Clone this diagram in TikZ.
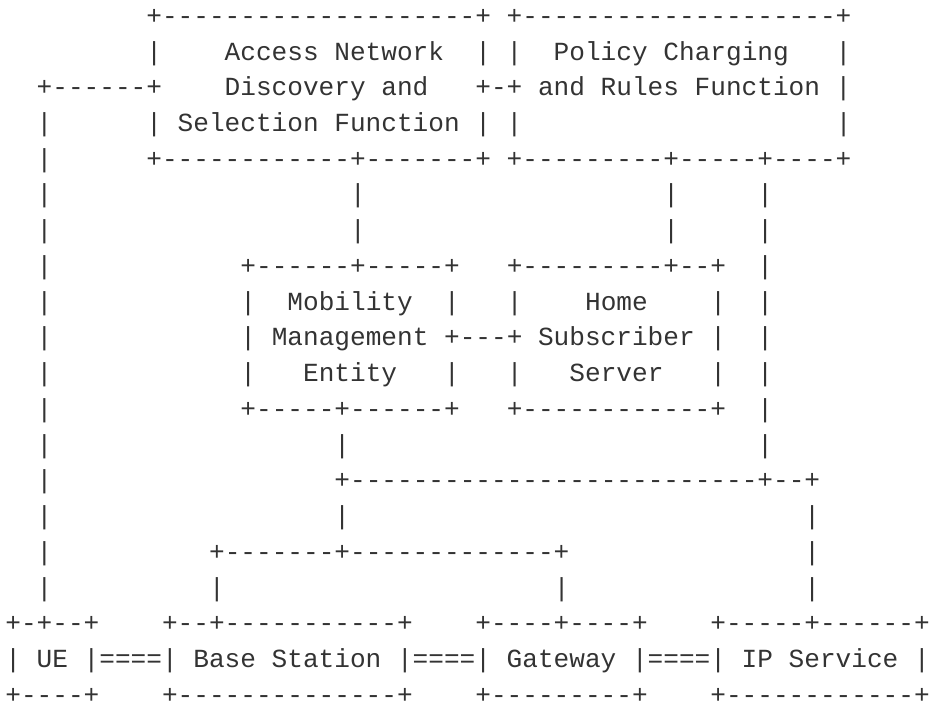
\documentclass[tikz,border=0pt]{standalone}
\usepackage{fontspec}
\setmonofont{Liberation Mono}
\definecolor{asciiink}{HTML}{333333}
\tikzset{
	asciitext/.style={
		inner sep  = 0pt,
		anchor     = base west,
		text depth = 0pt,
		text       = asciiink,
		font       = \ttfamily\fontsize{26.11pt}{36pt}\selectfont
	}
}
% n empty character cells
\newcommand{\blank}[1]{\hskip#1\fontcharwd\font`\x\relax}
\newcommand{\asciirow}[2]{%
	% row number, row text
	\pgfmathsetmacro{\rowy}{678.7-(#1-1)*35.74}
	\node[asciitext] (row#1) at (5.2,\rowy) {#2};
}

\begin{document}
\begin{tikzpicture}[x=1pt,y=1pt]
	\useasboundingbox (0,0) rectangle (929,703);
	% ANDSF and PCRF
	\asciirow{1}{\blank{9}+--------------------+\blank{1}+--------------------+}
	\asciirow{2}{\blank{9}|\blank{4}Access Network\blank{2}|\blank{1}|\blank{2}Policy Charging\blank{3}|}
	\asciirow{3}{\blank{2}+------+\blank{4}Discovery and\blank{3}+-+\blank{1}and Rules Function\blank{1}|}
	\asciirow{4}{\blank{2}|\blank{6}|\blank{1}Selection Function\blank{1}|\blank{1}|\blank{20}|}
	\asciirow{5}{\blank{2}|\blank{6}+------------+-------+\blank{1}+---------+-----+----+}
	\asciirow{6}{\blank{2}|\blank{19}|\blank{19}|\blank{5}|}
	\asciirow{7}{\blank{2}|\blank{19}|\blank{19}|\blank{5}|}
	% MME and HSS
	\asciirow{8}{\blank{2}|\blank{12}+------+-----+\blank{3}+---------+--+\blank{2}|}
	\asciirow{9}{\blank{2}|\blank{12}|\blank{2}Mobility\blank{2}|\blank{3}|\blank{4}Home\blank{4}|\blank{2}|}
	\asciirow{10}{\blank{2}|\blank{12}|\blank{1}Management\blank{1}+---+\blank{1}Subscriber\blank{1}|\blank{2}|}
	\asciirow{11}{\blank{2}|\blank{12}|\blank{3}Entity\blank{3}|\blank{3}|\blank{3}Server\blank{3}|\blank{2}|}
	\asciirow{12}{\blank{2}|\blank{12}+-----+------+\blank{3}+------------+\blank{2}|}
	\asciirow{13}{\blank{2}|\blank{18}|\blank{26}|}
	\asciirow{14}{\blank{2}|\blank{18}+--------------------------+--+}
	\asciirow{15}{\blank{2}|\blank{18}|\blank{29}|}
	\asciirow{16}{\blank{2}|\blank{10}+-------+-------------+\blank{15}|}
	\asciirow{17}{\blank{2}|\blank{10}|\blank{21}|\blank{15}|}
	% data path
	\asciirow{18}{+-+--+\blank{4}+--+-----------+\blank{4}+----+----+\blank{4}+-----+------+}
	\asciirow{19}{|\blank{1}UE\blank{1}|====|\blank{1}Base Station\blank{1}|====|\blank{1}Gateway\blank{1}|====|\blank{1}IP Service\blank{1}|}
	\asciirow{20}{+----+\blank{4}+--------------+\blank{4}+---------+\blank{4}+------------+}
\end{tikzpicture}
\end{document}
